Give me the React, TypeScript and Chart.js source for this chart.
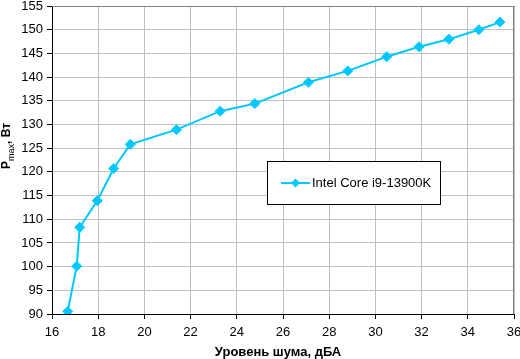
import React, { useEffect, useRef } from "react";
import { Chart, registerables } from "chart.js";

Chart.register(...registerables);

const noiseLevels = [16.68, 17.07, 17.2, 17.96, 18.67, 19.39, 21.39, 23.28, 24.78, 27.1, 28.8, 30.49, 31.89, 33.18, 34.48, 35.39];
const powerValues = [90.55, 100.1, 108.3, 113.9, 120.7, 125.8, 128.9, 132.8, 134.4, 138.9, 141.3, 144.3, 146.4, 148.0, 150.0, 151.6];
const seriesName = "Intel Core i9-13900K";
const xTitle = "Уровень шума, дБА";
const yTitleMain = "P";
const yTitleSub = "max";
const yTitleUnit = ", Вт";

const COLOR = "#00C8FF";
const FONT = '"Liberation Sans", Arial, sans-serif';

const decorPlugin = {
  id: "decor",
  beforeDatasetsDraw(chart: any) {
    const { ctx, chartArea } = chart;
    ctx.save();
    ctx.strokeStyle = "#808080";
    ctx.lineWidth = 1;
    ctx.beginPath();
    ctx.moveTo(chartArea.left, Math.round(chartArea.top) + 0.5);
    ctx.lineTo(chartArea.right + 0.5, Math.round(chartArea.top) + 0.5);
    ctx.moveTo(Math.round(chartArea.right) - 0.5, chartArea.top);
    ctx.lineTo(Math.round(chartArea.right) - 0.5, chartArea.bottom);
    ctx.stroke();
    ctx.restore();
  },
  afterDraw(chart: any) {
    const { ctx } = chart;
    ctx.save();
    // x title
    ctx.fillStyle = "#000";
    ctx.font = `bold 13px ${FONT}`;
    ctx.textAlign = "center";
    ctx.textBaseline = "alphabetic";
    ctx.fillText(xTitle, 278, 356);
    // y title
    ctx.translate(10, 169);
    ctx.rotate(-Math.PI / 2);
    ctx.textAlign = "left";
    ctx.font = `bold 12px ${FONT}`;
    ctx.fillText(yTitleMain, 0, 0);
    let w = ctx.measureText(yTitleMain).width;
    ctx.font = `9px ${FONT}`;
    ctx.fillText(yTitleSub, w, 4);
    w += ctx.measureText(yTitleSub).width;
    ctx.font = `bold 12px ${FONT}`;
    ctx.fillText(yTitleUnit, w, 0);
    ctx.restore();

    // legend
    ctx.save();
    const lx = 267.5, ly = 161.5, lw = 173, lh = 43;
    ctx.fillStyle = "#fff";
    ctx.fillRect(lx, ly, lw, lh);
    ctx.strokeStyle = "#000";
    ctx.lineWidth = 1;
    ctx.strokeRect(lx, ly, lw, lh);
    const cy = 183;
    ctx.strokeStyle = COLOR;
    ctx.lineWidth = 2;
    ctx.beginPath();
    ctx.moveTo(281, cy);
    ctx.lineTo(310, cy);
    ctx.stroke();
    ctx.fillStyle = COLOR;
    ctx.beginPath();
    const r = 4.5, cx = 295.5;
    ctx.moveTo(cx, cy - r);
    ctx.lineTo(cx + r, cy);
    ctx.lineTo(cx, cy + r);
    ctx.lineTo(cx - r, cy);
    ctx.closePath();
    ctx.fill();
    ctx.fillStyle = "#000";
    ctx.font = `13px ${FONT}`;
    ctx.textAlign = "left";
    ctx.textBaseline = "middle";
    ctx.fillText(seriesName, 312, cy);
    ctx.restore();
  },
};

export default function App() {
  const canvasRef = useRef<HTMLCanvasElement | null>(null);

  useEffect(() => {
    const canvas = canvasRef.current;
    if (!canvas) return;
    const chart = new Chart(canvas, {
      type: "line",
      data: {
        datasets: [
          {
            label: seriesName,
            data: noiseLevels.map((x, i) => ({ x, y: powerValues[i] })),
            borderColor: COLOR,
            backgroundColor: COLOR,
            borderWidth: 2,
            pointStyle: "rectRot",
            pointRadius: 5,
            pointBorderWidth: 1,
            pointBorderColor: COLOR,
            pointBackgroundColor: COLOR,
            tension: 0,
            fill: false,
          },
        ],
      },
      options: {
        animation: false,
        responsive: false,
        maintainAspectRatio: false,
        layout: { padding: { top: 5, right: 6, left: 0, bottom: 0 } },
        plugins: {
          legend: { display: false },
          tooltip: { enabled: false },
        },
        scales: {
          x: {
            type: "linear",
            min: 16,
            max: 36,
            ticks: {
              stepSize: 2,
              color: "#000",
              font: { family: FONT, size: 13 },
              padding: 6,
              maxRotation: 0,
            },
            grid: { color: "#C0C0C0", tickColor: "#000", tickLength: 5, lineWidth: 1 },
            border: { color: "#000", width: 1 },
            afterFit(scale: any) {
              scale.height = 45;
              scale.paddingLeft = 0;
              scale.paddingRight = 0;
            },
          },
          y: {
            type: "linear",
            min: 90,
            max: 155,
            ticks: {
              stepSize: 5,
              color: "#000",
              font: { family: FONT, size: 13 },
              padding: 4,
            },
            grid: { color: "#C0C0C0", tickColor: "#000", tickLength: 5, lineWidth: 1 },
            border: { color: "#000", width: 1 },
            afterFit(scale: any) {
              scale.width = 52;
              scale.paddingTop = 0;
              scale.paddingBottom = 0;
            },
          },
        },
      },
      plugins: [decorPlugin],
    });
    return () => chart.destroy();
  }, []);

  return (
    <div style={{ position: "fixed", left: 0, top: 0, width: 520, height: 359, background: "#fff" }}>
      <canvas ref={canvasRef} width={520} height={359} style={{ width: 520, height: 359, display: "block" }} />
    </div>
  );
}
